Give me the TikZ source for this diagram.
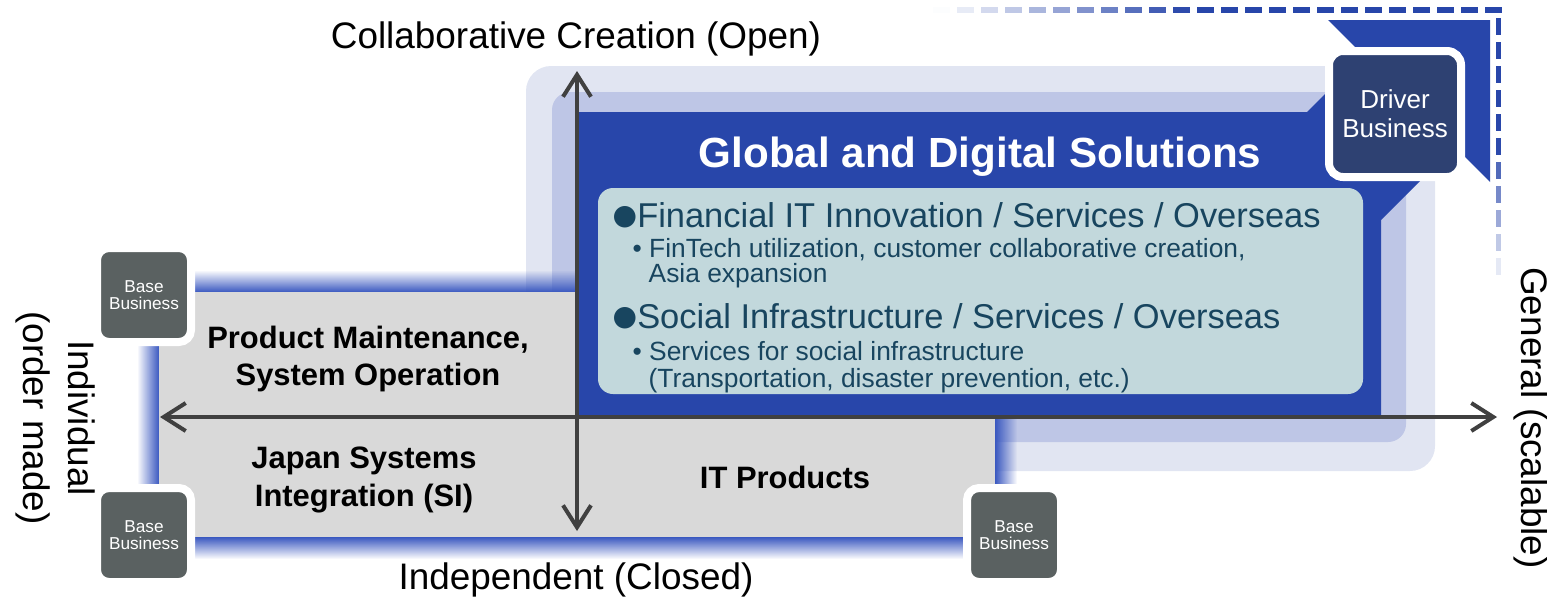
\documentclass[tikz,border=0pt]{standalone}
\usepackage{fontspec}
\setmainfont{Liberation Sans}
\newfontfamily\symfont{DejaVu Sans}
\usetikzlibrary{arrows.meta,fadings}

\definecolor{lavlight}{HTML}{E1E5F2}
\definecolor{lavmid}{HTML}{BEC6E6}
\definecolor{gdsblue}{HTML}{2846AA}
\definecolor{drvnavy}{HTML}{2E4172}
\definecolor{panel}{HTML}{C2D8DC}
\definecolor{paneltext}{HTML}{18455F}
\definecolor{basefill}{HTML}{D9D9D9}
\definecolor{basebox}{HTML}{5A6161}
\definecolor{axisgray}{HTML}{404040}
\definecolor{glow}{HTML}{3A58C0}

\newcommand{\bigdot}{{\symfont\fontsize{8}{8}\selectfont\raisebox{0.6pt}{●}}}

\begin{document}
\begin{tikzpicture}[
        x=0.1mm, y=-0.1mm, font=\fontsize{10.5}{12.8}\selectfont,
        axis/.style={<->, line width=0.4mm, draw=axisgray, >={Straight Barb[length=2.2mm, width=2.8mm]}},
        basebiz/.style={rectangle, rounded corners=1.2mm, fill=basebox, draw=white, line width=0.8mm, minimum size=9.4mm, inner sep=0pt, align=center, text=white, font=\fontsize{4.9}{4.9}\selectfont},
        drvbox/.style={rectangle, rounded corners=1.4mm, fill=drvnavy, draw=white, line width=0.8mm, minimum width=13.2mm, minimum height=12.6mm, inner sep=0pt, align=center, text=white, font=\fontsize{7.4}{8.2}\selectfont},
        quad/.style={font=\bfseries\fontsize{8.8}{10.8}\selectfont, align=center},
        head/.style={anchor=base west, text=paneltext, inner sep=0pt, font=\fontsize{9.8}{11}\selectfont},
        sub/.style={anchor=base west, text=paneltext, inner sep=0pt, font=\fontsize{7.5}{8.5}\selectfont}
    ]
    \useasboundingbox (0,0) rectangle (1547,596);

    % lavender backing layers
    \fill[lavlight, rounded corners=2.5mm] (526,66) rectangle (1435,471);
    \fill[lavmid, rounded corners=1.8mm] (552,92) rectangle (1406,442);

    % base business area with blue glow round it
    \fill[glow, path fading=north] (159,270) rectangle (577,292);
    \fill[glow, path fading=south] (159,537) rectangle (995,559);
    \fill[glow, path fading=west] (137,292) rectangle (159,537);
    \fill[glow, path fading=east] (995,417) rectangle (1017,537);
    \fill[basefill] (159,292) rectangle (577,537);
    \fill[basefill] (577,417) rectangle (995,537);

    % growth area, arrow pointing to the top right corner
    \fill[gdsblue] (577,112) -- (1307,112) -- (1363.5,55.5) -- (1328,20) -- (1490,20)
        -- (1490,182) -- (1454.5,146.5) -- (1381,220) -- (1381,417) -- (577,417) -- cycle;
    \node[text=white, font=\bfseries\fontsize{12}{14}\selectfont, anchor=base] (gds) at (980,167) {Global and Digital Solutions};
    \fill[panel, rounded corners=1.5mm] (598,188) rectangle (1363,394);

    \node[head] (fin) at (612,227) {\bigdot Financial IT Innovation / Services / Overseas};
    \node[sub] (finA) at (632,257) {• FinTech utilization, customer collaborative creation,};
    \node[sub] (finB) at (648,282) {Asia expansion};
    \node[head] (soc) at (612,328) {\bigdot Social Infrastructure / Services / Overseas};
    \node[sub] (socA) at (632,360) {• Services for social infrastructure};
    \node[sub] (socB) at (648,387) {(Transportation, disaster prevention, etc.)};

    \node[quad] (maint) at (368,359) {Product Maintenance,\\System Operation};
    \node[quad] (japansi) at (364,480) {Japan Systems\\Integration (SI)};
    \node[quad, anchor=base] (itprod) at (785,488) {IT Products};

    % axes
    \coordinate (xl) at (160,417);
    \coordinate (xr) at (1497,417);
    \coordinate (yt) at (577,71);
    \coordinate (yb) at (577,531);
    \draw[axis] (xl) -- (xr);
    \draw[axis] (yb) -- (yt);

    \node[anchor=base] (open) at (576,48) {Collaborative Creation (Open)};
    \node[anchor=base] (closed) at (576,589) {Independent (Closed)};
    \node[rotate=-90] (general) at (1531,418) {General (scalable)};
    \node[rotate=-90, align=center] (indiv) at (56,418) {Individual\\(order made)};

    \node[basebiz] (baseTL) at (144,295) {Base\\Business};
    \node[basebiz] (baseBL) at (144,535) {Base\\Business};
    \node[basebiz] (baseBR) at (1014,535) {Base\\Business};
    \node[drvbox] (driver) at (1395,114) {Driver\\Business};

    % fading dashed frame
    \foreach \i in {0,...,23}{
        \pgfmathsetmacro\op{min(1,max(0,(1485-24*\i-930)/250))}
        \draw[gdsblue, line width=0.6mm, opacity=\op] ({1485-24*\i},10) -- ++(17,0);
    }
    \foreach \j in {0,...,10}{
        \pgfmathsetmacro\op{min(1,max(0,(257-24*\j)/140))}
        \draw[gdsblue, line width=0.5mm, opacity=\op] (1498,{18+24*\j}) -- ++(0,17);
    }
\end{tikzpicture}
\end{document}
